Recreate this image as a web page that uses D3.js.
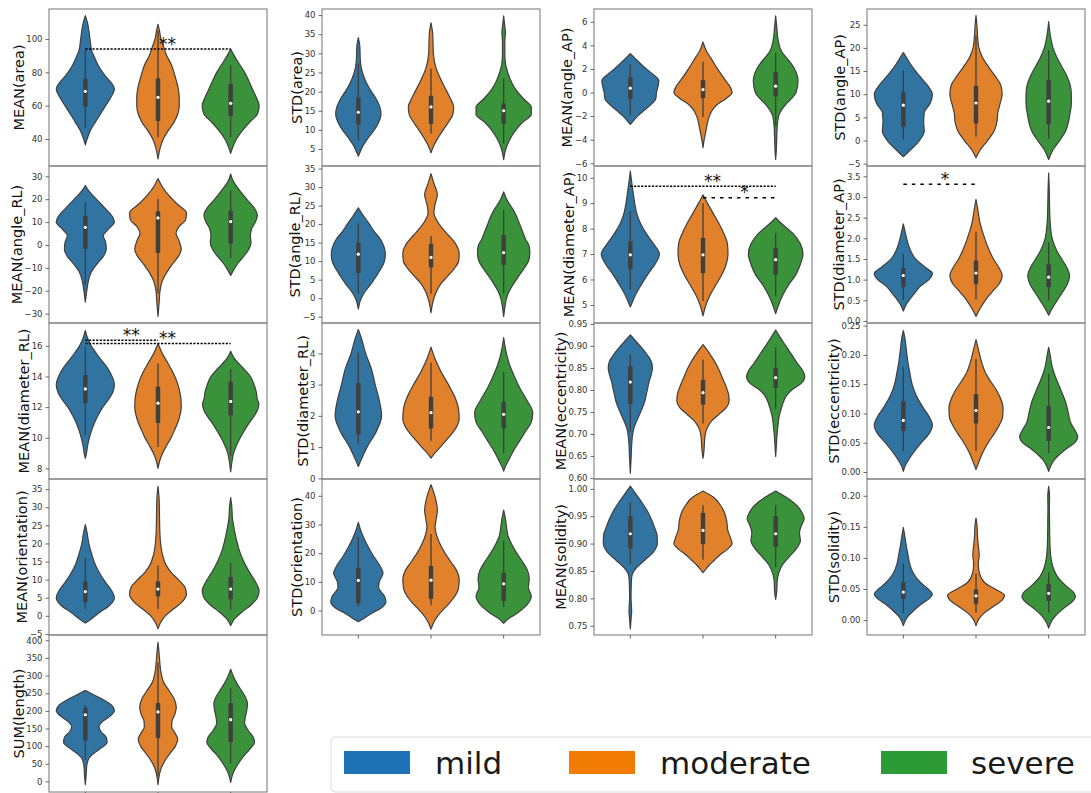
<!DOCTYPE html>
<html>
<head>
<meta charset="utf-8">
<script src="https://cdn.jsdelivr.net/npm/d3@7"></script>
<style>
  html, body { margin: 0; padding: 0; background: #fff; }
  svg { display: block; font-family: "DejaVu Sans", sans-serif; }
</style>
</head>
<body>
<script>
// Severity groups shown in every panel
const groups = ["mild", "moderate", "severe"];

// Violin outlines: [value, relative half-width] from top tip to bottom tip.
// Box summaries: [whisker low, Q1, median, Q3, whisker high].

const meanAreaShape = [
  [[114,0],[110,0.07],[100,0.16],[93,0.22],[88,0.34],[83,0.48],[78,0.68],[74,0.88],[70,1.0],[65,0.88],[60,0.7],[55,0.52],[50,0.34],[45,0.17],[40,0.06],[36.5,0]],
  [[108.8,0],[105,0.05],[100,0.1],[95,0.2],[90,0.3],[85,0.45],[80,0.55],[75,0.63],[70,0.7],[65,0.73],[60,0.73],[55,0.68],[50,0.55],[45,0.35],[40,0.18],[35,0.08],[28,0]],
  [[94,0],[90,0.12],[85,0.3],[80,0.48],[75,0.62],[70,0.75],[65,0.88],[60,0.98],[55,0.92],[50,0.65],[45,0.4],[40,0.2],[35,0.07],[31.4,0]]
];
const meanAreaBox = [[46.8,59.4,68.6,76.2,93.4],[41,50.8,65,76.4,105],[41.2,53.8,61.4,73,84.2]];
const meanAreaTicks = [40, 60, 80, 100];

const stdAreaShape = [
  [[34.1,0],[32,0.05],[28,0.07],[25,0.14],[22,0.3],[20,0.45],[18,0.62],[16,0.74],[14,0.78],[12,0.7],[10,0.55],[8,0.35],[6,0.17],[4,0.05],[3.1,0]],
  [[38,0],[35,0.06],[30,0.08],[26,0.18],[23,0.35],[20,0.55],[18,0.68],[16,0.78],[14,0.75],[12,0.6],[10,0.42],[8,0.25],[6,0.1],[4,0]],
  [[39.8,0],[37,0.04],[35.5,0.06],[33,0.04],[30,0.04],[27,0.07],[25,0.14],[22,0.3],[20,0.47],[18,0.7],[16,0.95],[14,0.95],[12,0.65],[10,0.42],[8,0.25],[6,0.12],[4,0.04],[2.2,0]]
];
const stdAreaBox = [[7.3,11.4,14.6,18.4,27.3],[9,11.6,16,18.9,26],[6.4,11.6,15,16.9,23.4]];
const stdAreaTicks = [5, 10, 15, 20, 25, 30, 35, 40];

const meanAngleApShape = [
  [[3.3,0],[2.8,0.2],[2,0.55],[1.5,0.8],[1,0.98],[0.5,0.95],[0,0.9],[-0.5,0.88],[-1,0.72],[-1.5,0.48],[-2,0.25],[-2.5,0.07],[-2.7,0]],
  [[4.28,0],[3.5,0.12],[3,0.25],[2,0.5],[1,0.78],[0.5,0.93],[0,1.0],[-0.5,0.8],[-1,0.5],[-1.5,0.32],[-2,0.22],[-2.5,0.16],[-3,0.12],[-3.5,0.08],[-4,0.04],[-4.67,0]],
  [[6.5,0],[5.5,0.04],[4.5,0.08],[3.5,0.2],[3,0.35],[2.5,0.52],[2,0.65],[1,0.77],[0,0.7],[-0.5,0.55],[-1,0.35],[-1.5,0.2],[-2,0.1],[-3,0.05],[-4,0.035],[-5,0.02],[-5.67,0]]
];
const meanAngleApBox = [[-1.93,-0.54,0.37,1.27,2.4],[-2.07,-0.48,0.25,1.05,2.6],[-2.9,-0.34,0.54,1.73,3.37]];
const meanAngleApTicks = [-6, -4, -2, 0, 2, 4, 6];

const stdAngleApShape = [
  [[19,0],[17.5,0.15],[16,0.3],[14,0.55],[12,0.82],[10,1.0],[8,0.92],[6,0.72],[4,0.7],[2,0.72],[0,0.55],[-2,0.25],[-3.5,0]],
  [[27,0],[25,0.03],[22,0.06],[20,0.1],[18,0.22],[16,0.42],[14,0.65],[12,0.85],[10,0.9],[8,0.83],[6,0.75],[4,0.72],[2,0.62],[0,0.4],[-2,0.15],[-3.7,0]],
  [[25.7,0],[23,0.05],[20,0.15],[18,0.28],[16,0.45],[14,0.62],[12,0.74],[10,0.78],[8,0.78],[6,0.74],[4,0.68],[2,0.58],[0,0.38],[-2,0.15],[-4.1,0]]
];
const stdAngleApBox = [[0.2,2.96,7.64,10.45,15.2],[0.8,3.7,8.1,11.8,22.6],[0.4,3.5,8.5,13.05,19.5]];
const stdAngleApTicks = [-5, 0, 5, 10, 15, 20, 25];

const meanAngleRlShape = [
  [[26,0],[24,0.1],[20,0.38],[16,0.68],[12,0.95],[10,1.0],[7,0.8],[4,0.62],[1,0.7],[-2,0.72],[-5,0.62],[-8,0.42],[-12,0.2],[-16,0.1],[-20,0.05],[-25,0]],
  [[29,0],[26,0.12],[22,0.35],[18,0.65],[14,0.98],[11,0.95],[8,0.72],[5,0.62],[2,0.72],[-2,0.8],[-5,0.7],[-8,0.52],[-12,0.3],[-16,0.14],[-20,0.07],[-25,0.04],[-31.2,0]],
  [[31,0],[28,0.08],[24,0.3],[20,0.55],[16,0.82],[13,0.92],[10,0.85],[7,0.72],[4,0.68],[1,0.7],[-2,0.62],[-5,0.45],[-8,0.25],[-11,0.1],[-13.3,0]]
];
const meanAngleRlBox = [[-17.6,-1.7,7.7,12.7,18.6],[-21.3,-3.5,11.8,14.7,20.1],[-5.7,0.6,10.2,14.9,23.9]];
const meanAngleRlTicks = [-30, -20, -10, 0, 10, 20, 30];

const stdAngleRlShape = [
  [[24.4,0],[22,0.2],[20,0.38],[18,0.55],[16,0.75],[14,0.88],[12,0.93],[10,0.9],[8,0.78],[6,0.62],[4,0.45],[2,0.25],[0,0.1],[-2.9,0]],
  [[33.6,0],[31,0.1],[28,0.22],[25,0.13],[23,0.1],[21,0.2],[19,0.38],[17,0.6],[15,0.82],[12,0.97],[10,0.95],[8,0.8],[6,0.58],[4,0.35],[2,0.2],[0,0.1],[-3.9,0]],
  [[28.7,0],[26,0.15],[24,0.32],[22,0.45],[20,0.55],[18,0.65],[16,0.75],[14,0.88],[12,0.9],[10,0.85],[8,0.7],[6,0.52],[4,0.35],[2,0.2],[0,0.1],[-2,0.05],[-4.9,0]]
];
const stdAngleRlBox = [[1.2,6.8,11.9,15,20.2],[1.2,8.3,11,14.7,16.8],[1.2,9,12.3,17,23.8]];
const stdAngleRlTicks = [-5, 0, 5, 10, 15, 20, 25, 30, 35];

const meanDiameterApShape = [
  [[10.26,0],[9.8,0.05],[9.4,0.1],[9,0.15],[8.6,0.22],[8.2,0.35],[7.8,0.55],[7.4,0.8],[7,1.0],[6.6,0.85],[6.2,0.6],[5.8,0.38],[5.4,0.18],[5,0.03],[4.92,0]],
  [[9.33,0],[9,0.15],[8.6,0.35],[8.2,0.55],[7.8,0.72],[7.4,0.84],[7,0.86],[6.6,0.8],[6.2,0.65],[5.8,0.45],[5.4,0.25],[5,0.1],[4.57,0]],
  [[8.43,0],[8.2,0.2],[7.8,0.6],[7.4,0.85],[7,0.94],[6.6,0.85],[6.2,0.7],[5.8,0.45],[5.4,0.25],[5,0.1],[4.66,0]]
];
const meanDiameterApBox = [[5.6,6.42,6.97,7.5,8.69],[5.15,6.25,6.97,7.63,9.0],[5.34,6.19,6.78,7.24,7.82]];
const meanDiameterApTicks = [5, 6, 7, 8, 9, 10];

const stdDiameterApShape = [
  [[2.35,0],[2.1,0.08],[1.9,0.15],[1.7,0.25],[1.5,0.42],[1.3,0.75],[1.15,1.0],[1,0.88],[0.85,0.6],[0.7,0.42],[0.55,0.25],[0.4,0.1],[0.24,0]],
  [[2.94,0],[2.7,0.06],[2.4,0.13],[2.1,0.25],[1.8,0.4],[1.5,0.6],[1.3,0.78],[1.1,0.9],[0.9,0.8],[0.7,0.55],[0.5,0.32],[0.3,0.14],[0.11,0]],
  [[3.58,0],[3.2,0.02],[2.8,0.03],[2.4,0.05],[2,0.12],[1.7,0.28],[1.5,0.45],[1.3,0.62],[1.1,0.72],[0.9,0.65],[0.7,0.48],[0.5,0.3],[0.3,0.12],[0.14,0]]
];
const stdDiameterApBox = [[0.5,0.82,1.1,1.28,1.63],[0.52,0.89,1.16,1.46,2.16],[0.5,0.82,1.06,1.37,1.9]];
const stdDiameterApTicks = [0, 0.5, 1, 1.5, 2, 2.5, 3, 3.5];

const meanDiameterRlShape = [
  [[17,0],[16.5,0.08],[16,0.2],[15.5,0.38],[15,0.58],[14.5,0.78],[14,0.92],[13.5,1.0],[13,0.95],[12.5,0.8],[12,0.6],[11.5,0.45],[11,0.32],[10.5,0.22],[10,0.14],[9.5,0.08],[9,0.04],[8.65,0]],
  [[16.15,0],[15.5,0.15],[15,0.3],[14.5,0.45],[14,0.58],[13.5,0.68],[13,0.75],[12.5,0.79],[12,0.8],[11.5,0.76],[11,0.68],[10.5,0.57],[10,0.45],[9.5,0.3],[9,0.16],[8.5,0.06],[8,0]],
  [[15.65,0],[15.2,0.12],[14.8,0.3],[14.4,0.5],[14,0.68],[13.5,0.8],[13,0.88],[12.5,0.92],[12.2,0.97],[11.8,0.92],[11.4,0.8],[11,0.65],[10.5,0.48],[10,0.33],[9.5,0.2],[9,0.1],[8.5,0.05],[7.78,0]]
];
const meanDiameterRlBox = [[10.16,12.26,13.19,14.1,15.93],[9.4,10.96,12.26,13.34,14.85],[8.8,11.46,12.37,13.66,14.49]];
const meanDiameterRlTicks = [8, 10, 12, 14, 16];

const stdDiameterRlShape = [
  [[4.76,0],[4.5,0.1],[4,0.25],[3.5,0.45],[3,0.58],[2.5,0.72],[2,0.8],[1.5,0.62],[1,0.3],[0.6,0.1],[0.38,0]],
  [[4.2,0],[3.8,0.15],[3.4,0.35],[3,0.6],[2.6,0.82],[2.2,0.95],[1.9,0.97],[1.6,0.85],[1.3,0.6],[1,0.32],[0.8,0.12],[0.65,0]],
  [[4.5,0],[4.1,0.07],[3.7,0.18],[3.3,0.35],[2.9,0.55],[2.5,0.8],[2.1,1.0],[1.8,0.95],[1.5,0.75],[1.2,0.55],[0.9,0.35],[0.6,0.18],[0.4,0.07],[0.23,0]]
];
const stdDiameterRlBox = [[1.09,1.4,2.13,3.05,4.03],[1.2,1.6,2.1,2.61,3.7],[0.8,1.6,2.05,2.45,3.4]];
const stdDiameterRlTicks = [0, 1, 2, 3, 4];

const meanEccentricityShape = [
  [[0.925,0],[0.91,0.2],[0.895,0.4],[0.88,0.58],[0.865,0.72],[0.85,0.76],[0.835,0.72],[0.82,0.65],[0.805,0.6],[0.79,0.55],[0.775,0.5],[0.76,0.42],[0.745,0.32],[0.73,0.22],[0.715,0.13],[0.7,0.08],[0.68,0.05],[0.65,0.03],[0.611,0]],
  [[0.903,0],[0.89,0.15],[0.87,0.35],[0.85,0.52],[0.83,0.65],[0.81,0.78],[0.79,0.88],[0.775,0.9],[0.76,0.8],[0.745,0.55],[0.73,0.3],[0.715,0.15],[0.7,0.08],[0.68,0.05],[0.66,0.03],[0.645,0]],
  [[0.936,0],[0.92,0.15],[0.905,0.3],[0.89,0.45],[0.875,0.6],[0.86,0.75],[0.845,0.92],[0.83,1.0],[0.815,0.88],[0.8,0.55],[0.785,0.35],[0.77,0.25],[0.755,0.18],[0.74,0.12],[0.72,0.08],[0.7,0.05],[0.68,0.03],[0.649,0]]
];
const meanEccentricityBox = [[0.705,0.769,0.818,0.854,0.881],[0.724,0.767,0.794,0.823,0.869],[0.756,0.805,0.828,0.85,0.897]];
const meanEccentricityTicks = [0.6, 0.65, 0.7, 0.75, 0.8, 0.85, 0.9, 0.95];

const stdEccentricityShape = [
  [[0.2415,0],[0.23,0.05],[0.21,0.1],[0.19,0.15],[0.17,0.22],[0.15,0.3],[0.13,0.45],[0.11,0.68],[0.095,0.88],[0.08,1.0],[0.065,0.88],[0.05,0.62],[0.035,0.38],[0.02,0.17],[0.01,0.06],[0.001,0]],
  [[0.226,0],[0.21,0.08],[0.19,0.18],[0.17,0.32],[0.155,0.5],[0.14,0.7],[0.125,0.85],[0.11,0.93],[0.095,0.92],[0.08,0.8],[0.065,0.62],[0.05,0.42],[0.035,0.25],[0.02,0.12],[0.004,0]],
  [[0.213,0],[0.2,0.05],[0.18,0.12],[0.16,0.25],[0.14,0.42],[0.12,0.58],[0.1,0.68],[0.085,0.75],[0.07,0.92],[0.06,1.0],[0.05,0.9],[0.04,0.62],[0.03,0.38],[0.02,0.18],[0.01,0.07],[0.001,0]]
];
const stdEccentricityBox = [[0.036,0.07,0.088,0.121,0.18],[0.036,0.083,0.105,0.133,0.193],[0.032,0.053,0.076,0.113,0.168]];
const stdEccentricityTicks = [0, 0.05, 0.1, 0.15, 0.2, 0.25];

const meanOrientationShape = [
  [[25.2,0],[23,0.06],[20,0.12],[17,0.22],[14,0.35],[11,0.55],[9,0.72],[7,0.9],[5,1.0],[3,0.85],[1,0.5],[-1,0.18],[-2,0]],
  [[35.8,0],[32,0.04],[28,0.05],[24,0.06],[20,0.09],[17,0.15],[14,0.28],[12,0.45],[10,0.7],[8,0.92],[6,0.98],[4,0.85],[2,0.55],[0,0.25],[-2,0.08],[-3.6,0]],
  [[32.7,0],[30,0.04],[27,0.06],[24,0.12],[21,0.2],[18,0.3],[15,0.45],[12,0.65],[9,0.88],[7,0.98],[5,0.92],[3,0.7],[1,0.38],[-1,0.12],[-2.7,0]]
];
const meanOrientationBox = [[1.9,3.8,6.7,9.5,16.1],[1.9,5.35,7.4,9.5,13.9],[1.7,4.6,7.4,10.7,14.6]];
const meanOrientationTicks = [-5, 0, 5, 10, 15, 20, 25, 30, 35];

const stdOrientationShape = [
  [[30.7,0],[28,0.08],[25,0.2],[22,0.35],[19,0.52],[16,0.72],[13,0.85],[10,0.72],[8,0.7],[5,0.9],[3,0.95],[1,0.8],[-1,0.45],[-3,0.15],[-3.9,0]],
  [[43.9,0],[41,0.1],[38,0.18],[35,0.22],[32,0.18],[29,0.14],[26,0.2],[23,0.32],[20,0.48],[17,0.68],[14,0.88],[11,0.97],[8,0.95],[5,0.82],[2,0.58],[-1,0.3],[-4,0.1],[-6.5,0]],
  [[35,0],[32,0.06],[29,0.1],[26,0.15],[23,0.28],[20,0.45],[17,0.65],[14,0.82],[11,0.88],[8,0.85],[5,0.95],[2,0.8],[-1,0.45],[-3,0.15],[-4.5,0]]
];
const stdOrientationBox = [[1.4,2.6,10.5,14.9,25.7],[1.8,4.1,10.6,15.5,26.7],[1.2,3.3,9.3,13.2,24.4]];
const stdOrientationTicks = [0, 10, 20, 30, 40];

const meanSolidityShape = [
  [[1.005,0],[0.99,0.2],[0.975,0.4],[0.96,0.58],[0.945,0.72],[0.93,0.83],[0.915,0.92],[0.9,0.93],[0.885,0.8],[0.87,0.5],[0.855,0.2],[0.84,0.05],[0.82,0.03],[0.8,0.025],[0.785,0.04],[0.775,0.045],[0.765,0.03],[0.744,0]],
  [[0.996,0],[0.985,0.35],[0.97,0.6],[0.955,0.75],[0.94,0.82],[0.925,0.85],[0.91,0.95],[0.9,1.0],[0.89,0.85],[0.88,0.6],[0.87,0.4],[0.86,0.2],[0.85,0.05],[0.847,0]],
  [[0.996,0],[0.985,0.35],[0.97,0.72],[0.955,0.92],[0.945,0.98],[0.935,0.9],[0.92,0.82],[0.905,0.85],[0.89,0.7],[0.875,0.45],[0.86,0.22],[0.845,0.1],[0.83,0.05],[0.815,0.04],[0.798,0]]
];
const meanSolidityBox = [[0.862,0.891,0.918,0.95,0.976],[0.871,0.899,0.924,0.956,0.97],[0.857,0.894,0.918,0.95,0.97]];
const meanSolidityTicks = [0.75, 0.8, 0.85, 0.9, 0.95, 1.0];

const stdSolidityShape = [
  [[0.149,0],[0.135,0.05],[0.12,0.1],[0.105,0.16],[0.09,0.22],[0.075,0.35],[0.06,0.6],[0.05,0.85],[0.042,1.0],[0.035,0.9],[0.025,0.6],[0.015,0.35],[0.005,0.14],[-0.009,0]],
  [[0.164,0],[0.15,0.04],[0.135,0.05],[0.12,0.08],[0.105,0.11],[0.09,0.08],[0.075,0.12],[0.06,0.3],[0.05,0.65],[0.04,0.98],[0.032,0.9],[0.022,0.6],[0.012,0.3],[0.002,0.1],[-0.009,0]],
  [[0.215,0],[0.2,0.03],[0.18,0.025],[0.16,0.03],[0.14,0.035],[0.12,0.045],[0.1,0.08],[0.085,0.15],[0.07,0.3],[0.055,0.6],[0.045,0.85],[0.038,0.92],[0.03,0.82],[0.02,0.55],[0.01,0.3],[0,0.12],[-0.013,0]]
];
const stdSolidityBox = [[0.011,0.034,0.045,0.061,0.091],[0.012,0.026,0.039,0.049,0.075],[0.012,0.031,0.043,0.058,0.077]];
const stdSolidityTicks = [0, 0.05, 0.1, 0.15, 0.2];

const sumLengthShape = [
  [[258,0],[245,0.3],[230,0.65],[215,0.92],[200,1.0],[185,0.85],[170,0.6],[155,0.47],[140,0.55],[125,0.72],[110,0.75],[95,0.55],[80,0.3],[65,0.12],[45,0.05],[20,0.03],[-9.5,0]],
  [[394,0],[370,0.03],[340,0.06],[310,0.1],[280,0.2],[255,0.4],[235,0.55],[210,0.63],[190,0.58],[170,0.48],[155,0.47],[135,0.6],[120,0.68],[100,0.6],[80,0.42],[60,0.25],[40,0.12],[20,0.05],[-9.5,0]],
  [[318,0],[300,0.08],[280,0.2],[260,0.35],[240,0.5],[220,0.58],[200,0.55],[180,0.5],[165,0.48],[145,0.6],[125,0.78],[110,0.82],[95,0.7],[75,0.48],[55,0.3],[35,0.15],[15,0.05],[-3,0]]
];
const sumLengthBox = [[61,116,189,209,216],[14,123,197,222,337],[50,111.5,175,222,265]];
const sumLengthTicks = [0, 50, 100, 150, 200, 250, 300, 350, 400];

// Significance brackets between groups
const brackets = [
  { panel: "MEAN(area)",        from: 0, to: 2, value: 94,    label: "**", dash: "dense" },
  { panel: "MEAN(diameter_RL)", from: 0, to: 1, value: 16.37, label: "**", dash: "dense" },
  { panel: "MEAN(diameter_RL)", from: 0, to: 2, value: 16.15, label: "**", dash: "dense" },
  { panel: "MEAN(diameter_AP)", from: 0, to: 2, value: 9.66,  label: "**", dash: "dense" },
  { panel: "MEAN(diameter_AP)", from: 1, to: 2, value: 9.21,  label: "*",  dash: "sparse" },
  { panel: "STD(diameter_AP)",  from: 0, to: 1, value: 3.31,  label: "*",  dash: "sparse" }
];

// Panel grid: column / row placement, axis range and tick format
const panels = [
  { name: "MEAN(area)",         col: 0, row: 0, domain: [23.8, 118],     ticks: meanAreaTicks,         fmt: "d",   shape: meanAreaShape,         box: meanAreaBox },
  { name: "STD(area)",          col: 1, row: 0, domain: [0.55, 41.6],    ticks: stdAreaTicks,          fmt: "d",   shape: stdAreaShape,          box: stdAreaBox },
  { name: "MEAN(angle_AP)",     col: 2, row: 0, domain: [-6.23, 7.08],   ticks: meanAngleApTicks,      fmt: "d",   shape: meanAngleApShape,      box: meanAngleApBox },
  { name: "STD(angle_AP)",      col: 3, row: 0, domain: [-5.5, 28.4],    ticks: stdAngleApTicks,       fmt: "d",   shape: stdAngleApShape,       box: stdAngleApBox },
  { name: "MEAN(angle_RL)",     col: 0, row: 1, domain: [-34.1, 34.5],   ticks: meanAngleRlTicks,      fmt: "d",   shape: meanAngleRlShape,      box: meanAngleRlBox },
  { name: "STD(angle_RL)",      col: 1, row: 1, domain: [-6.7, 35.7],    ticks: stdAngleRlTicks,       fmt: "d",   shape: stdAngleRlShape,       box: stdAngleRlBox },
  { name: "MEAN(diameter_AP)",  col: 2, row: 1, domain: [4.29, 10.46],   ticks: meanDiameterApTicks,   fmt: "d",   shape: meanDiameterApShape,   box: meanDiameterApBox },
  { name: "STD(diameter_AP)",   col: 3, row: 1, domain: [-0.05, 3.75],   ticks: stdDiameterApTicks,    fmt: ".1f", shape: stdDiameterApShape,    box: stdDiameterApBox },
  { name: "MEAN(diameter_RL)",  col: 0, row: 2, domain: [7.31, 17.49],   ticks: meanDiameterRlTicks,   fmt: "d",   shape: meanDiameterRlShape,   box: meanDiameterRlBox },
  { name: "STD(diameter_RL)",   col: 1, row: 2, domain: [-0.02, 4.97],   ticks: stdDiameterRlTicks,    fmt: "d",   shape: stdDiameterRlShape,    box: stdDiameterRlBox },
  { name: "MEAN(eccentricity)", col: 2, row: 2, domain: [0.598, 0.952],  ticks: meanEccentricityTicks, fmt: ".2f", shape: meanEccentricityShape, box: meanEccentricityBox },
  { name: "STD(eccentricity)",  col: 3, row: 2, domain: [-0.012, 0.2545],ticks: stdEccentricityTicks,  fmt: ".2f", shape: stdEccentricityShape,  box: stdEccentricityBox },
  { name: "MEAN(orientation)",  col: 0, row: 3, domain: [-5.3, 37.8],    ticks: meanOrientationTicks,  fmt: "d",   shape: meanOrientationShape,  box: meanOrientationBox },
  { name: "STD(orientation)",   col: 1, row: 3, domain: [-8.53, 45.86],  ticks: stdOrientationTicks,   fmt: "d",   shape: stdOrientationShape,   box: stdOrientationBox, xticks: true },
  { name: "MEAN(solidity)",     col: 2, row: 3, domain: [0.733, 1.018],  ticks: meanSolidityTicks,     fmt: ".2f", shape: meanSolidityShape,     box: meanSolidityBox, xticks: true },
  { name: "STD(solidity)",      col: 3, row: 3, domain: [-0.024, 0.227], ticks: stdSolidityTicks,      fmt: ".2f", shape: stdSolidityShape,      box: stdSolidityBox, xticks: true },
  { name: "SUM(length)",        col: 0, row: 4, domain: [-30, 415],      ticks: sumLengthTicks,        fmt: "d",   shape: sumLengthShape,        box: sumLengthBox, xticks: true }
];

// Layout and styling
const W = 1091, H = 793;
const colLeft = [49, 322, 594, 867];
const colWidth = 218;
const rowEdges = [9, 166, 323, 479, 635, 792];
const violinFill = ["#3274a1", "#e1812c", "#3a923a"];
const legendFill = ["#1f72b5", "#f27b04", "#2b9a37"];
const lineGray = "#3f3f3f";

const svg = d3.select("body").append("svg")
  .attr("width", W).attr("height", H)
  .attr("viewBox", `0 0 ${W} ${H}`);

svg.append("rect").attr("width", W).attr("height", H).attr("fill", "#fff");

const defs = svg.append("defs");
const panelScales = {};

panels.forEach((p, pi) => {
  const x0 = colLeft[p.col], x1 = x0 + colWidth;
  const yTop = rowEdges[p.row], yBot = rowEdges[p.row + 1];

  const y = d3.scaleLinear().domain(p.domain).range([yBot, yTop]);
  const x = d3.scaleBand().domain(groups).range([x0, x1]);
  const half = x.bandwidth() * 0.4;
  const cx = g => x(g) + x.bandwidth() / 2;
  panelScales[p.name] = { x, y, cx };

  const clipId = "clip" + pi;
  defs.append("clipPath").attr("id", clipId)
    .append("rect").attr("x", x0).attr("y", yTop)
    .attr("width", colWidth).attr("height", yBot - yTop);

  const g = svg.append("g");
  const plot = g.append("g").attr("clip-path", `url(#${clipId})`);

  groups.forEach((grp, gi) => {
    const c = cx(grp);
    const pts = p.shape[gi].slice().sort((a, b) => b[0] - a[0]);
    const area = d3.area()
      .curve(d3.curveMonotoneY)
      .y(d => y(d[0]))
      .x0(d => c - d[1] * half)
      .x1(d => c + d[1] * half);

    plot.append("path")
      .attr("d", area(pts))
      .attr("fill", violinFill[gi])
      .attr("stroke", lineGray)
      .attr("stroke-width", 1.2)
      .attr("stroke-linejoin", "round");

    const b = p.box[gi];
    plot.append("line")
      .attr("x1", c).attr("x2", c)
      .attr("y1", y(b[0])).attr("y2", y(b[4]))
      .attr("stroke", lineGray).attr("stroke-width", 1.3);
    plot.append("rect")
      .attr("x", c - 2.2).attr("width", 4.4)
      .attr("y", y(b[3])).attr("height", y(b[1]) - y(b[3]))
      .attr("fill", lineGray);
    plot.append("circle")
      .attr("cx", c).attr("cy", y(b[2])).attr("r", 1.6)
      .attr("fill", "#fff");
  });

  // frame
  g.append("rect")
    .attr("x", x0).attr("y", yTop)
    .attr("width", colWidth).attr("height", yBot - yTop)
    .attr("fill", "none").attr("stroke", "#8a8a8a").attr("stroke-width", 1.2);

  // y axis
  const ax = g.append("g")
    .attr("transform", `translate(${x0},0)`)
    .call(d3.axisLeft(y).tickValues(p.ticks).tickFormat(d3.format(p.fmt))
      .tickSize(3.5).tickPadding(3));
  ax.select(".domain").remove();
  ax.selectAll(".tick line").attr("stroke", "#444").attr("stroke-width", 0.8);
  ax.selectAll(".tick text")
    .attr("font-family", "DejaVu Sans").attr("font-size", 8.5).attr("fill", "#333");

  let maxW = 0;
  ax.selectAll(".tick text").each(function () {
    maxW = Math.max(maxW, this.getComputedTextLength());
  });

  g.append("text")
    .attr("transform", `translate(${x0 - 6.5 - maxW - 2.5},${(yTop + yBot) / 2}) rotate(-90)`)
    .attr("text-anchor", "middle")
    .attr("font-family", "DejaVu Sans")
    .attr("font-size", 14.5)
    .attr("fill", "#111")
    .text(p.name);

  // category ticks along the bottom of the lowest panels
  if (p.xticks) {
    groups.forEach(grp => {
      g.append("line")
        .attr("x1", cx(grp)).attr("x2", cx(grp))
        .attr("y1", yBot).attr("y2", yBot + 3.5)
        .attr("stroke", "#444").attr("stroke-width", 0.8);
    });
  }
});

// significance brackets
brackets.forEach(br => {
  const s = panelScales[br.panel];
  const xa = s.cx(groups[br.from]), xb = s.cx(groups[br.to]);
  const yy = s.y(br.value);
  svg.append("line")
    .attr("x1", xa).attr("x2", xb).attr("y1", yy).attr("y2", yy)
    .attr("stroke", "#000").attr("stroke-width", 1.5)
    .attr("stroke-dasharray", br.dash === "dense" ? "2.2,1.4" : "3.5,5");
  svg.append("text")
    .attr("x", (xa + xb) / 2 + 1).attr("y", yy + 0.5)
    .attr("font-family", "DejaVu Sans").attr("font-size", 17)
    .attr("fill", "#111")
    .text(br.label);
});

// legend
const legend = svg.append("g");
legend.append("rect")
  .attr("x", 331).attr("y", 737).attr("width", 790).attr("height", 55)
  .attr("rx", 4).attr("fill", "#fff").attr("stroke", "#dcdcdc").attr("stroke-width", 1);
const legendSwatchX = [344, 569, 881];
const legendTextX = [435, 660, 971];
groups.forEach((grp, gi) => {
  legend.append("rect")
    .attr("x", legendSwatchX[gi]).attr("y", 751)
    .attr("width", 66).attr("height", 23)
    .attr("fill", legendFill[gi]);
  legend.append("text")
    .attr("x", legendTextX[gi]).attr("y", 774)
    .attr("font-family", "DejaVu Sans").attr("font-size", 31)
    .attr("fill", "#1a1a1a")
    .text(grp);
});
</script>
</body>
</html>
